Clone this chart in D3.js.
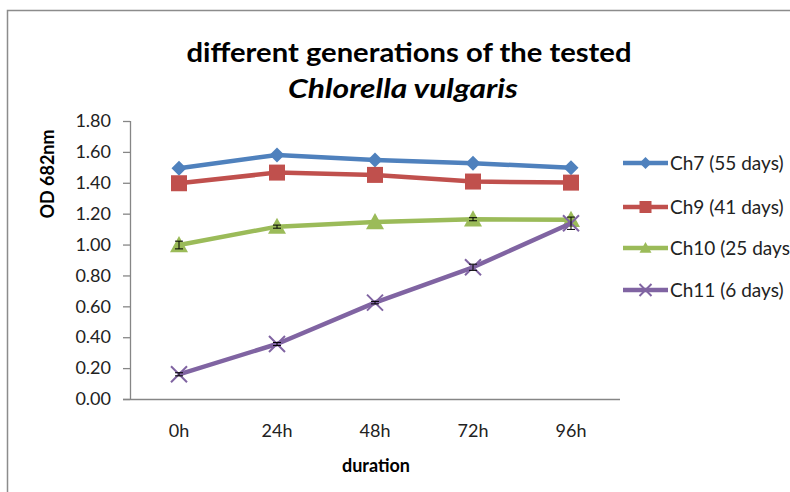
<!DOCTYPE html>
<html><head><meta charset="utf-8">
<script src="https://cdn.jsdelivr.net/npm/d3@7"></script>
<style>body{margin:0;background:#fff;overflow:hidden;} svg{display:block;} text{font-family:Lato,"Open Sans",sans-serif;}</style>
</head><body>
<svg id="c" width="790" height="492"></svg>
<script>
const categories = ["0h","24h","48h","72h","96h"];
const seriesNames = ["Ch7 (55 days)","Ch9 (41 days)","Ch10 (25 days)","Ch11 (6 days)"];
const ch7 = [1.494, 1.580, 1.548, 1.526, 1.498];
const ch9 = [1.397, 1.466, 1.451, 1.408, 1.401];
const ch10 = [0.997, 1.116, 1.146, 1.164, 1.160];
const ch11 = [0.160, 0.356, 0.624, 0.853, 1.138];
const err7 = [0, 0, 0, 0, 0];
const err9 = [0, 0, 0, 0, 0];
const err10 = [0.025, 0.01, 0, 0.01, 0];
const err11 = [0.01, 0.01, 0.008, 0.02, 0.04];
const yTicks = [0,0.2,0.4,0.6,0.8,1.0,1.2,1.4,1.6,1.8];
const colors = ["#4F81BD","#C0504D","#9BBB59","#8064A2"];
const markers = ["diamond","square","triangle","x"];
const seriesVals = [ch7, ch9, ch10, ch11];
const seriesErr = [err7, err9, err10, err11];

const svg = d3.select("#c");
// chart border
svg.append("path").attr("d","M7.5,492 L7.5,10.5 L790,10.5").attr("fill","none").attr("stroke","#8c8c8c").attr("stroke-width",1.5);

const x = d3.scaleBand().domain(categories).range([130,620]);
const y = d3.scaleLinear().domain([0,1.8]).range([399,121]);

// title
svg.append("text").attr("x",409).attr("y",62).attr("text-anchor","middle").attr("font-size",27).attr("font-weight","bold")
  .attr("textLength",445).attr("lengthAdjust","spacingAndGlyphs").text("different generations of the tested");
svg.append("text").attr("x",403).attr("y",98).attr("text-anchor","middle").attr("font-size",27).attr("font-weight","bold").attr("font-style","italic")
  .attr("textLength",230).attr("lengthAdjust","spacingAndGlyphs").text("Chlorella vulgaris");

// y axis
const ya = svg.append("g").attr("transform","translate(130,0)")
  .call(d3.axisLeft(y).tickValues(yTicks).tickFormat(d3.format(".2f")).tickSize(7).tickPadding(12));
ya.select(".domain").attr("stroke","#868686").attr("stroke-width",1.3).attr("d","M0.5,121V399.5");
ya.selectAll(".tick line").attr("stroke","#868686").attr("stroke-width",1.3);
ya.selectAll(".tick text").attr("font-size",18).attr("fill","#222").attr("font-family","Lato,sans-serif");

// x axis
const xa = svg.append("g").attr("transform","translate(0,399)")
  .call(d3.axisBottom(x).tickSize(0).tickPadding(25));
xa.select(".domain").attr("stroke","#868686").attr("stroke-width",1.3).attr("d","M123,0.5H620");
xa.selectAll(".tick text").attr("font-size",18).attr("fill","#222").attr("font-family","Lato,sans-serif");

// axis titles
svg.append("text").attr("transform","translate(54,174) rotate(-90)").attr("text-anchor","middle").attr("font-size",18).attr("font-weight","bold").text("OD 682nm");
svg.append("text").attr("x",376).attr("y",472).attr("text-anchor","middle").attr("font-size",18).attr("font-weight","bold").text("duration");

const cx = c => x(c) + x.bandwidth()/2;

function drawMarker(g, type, px, py, color, s) {
  if (type==="diamond") {
    g.append("path").attr("d",`M${px},${py-s}L${px+s},${py}L${px},${py+s}L${px-s},${py}Z`).attr("fill",color);
  } else if (type==="square") {
    g.append("rect").attr("x",px-s).attr("y",py-s).attr("width",2*s).attr("height",2*s).attr("fill",color);
  } else if (type==="triangle") {
    g.append("path").attr("d",`M${px},${py-s}L${px+s},${py+s*0.8}L${px-s},${py+s*0.8}Z`).attr("fill",color);
  } else {
    g.append("path").attr("d",`M${px-s},${py-s}L${px+s},${py+s}M${px-s},${py+s}L${px+s},${py-s}`).attr("stroke",color).attr("stroke-width",2);
  }
}
const msize = [7.5,8,9,8];

seriesVals.forEach((vals,i)=>{
  const g = svg.append("g");
  const data = categories.map((c,j)=>({c, v:vals[j], e:seriesErr[i][j]}));
  g.append("path").datum(data)
    .attr("d", d3.line().x(d=>cx(d.c)).y(d=>y(d.v)))
    .attr("fill","none").attr("stroke",colors[i]).attr("stroke-width",4.5).attr("stroke-linejoin","round");
  data.forEach(d=>drawMarker(g, markers[i], cx(d.c), y(d.v), colors[i], msize[i]));
  data.forEach(d=>{
    if (!d.e) return;
    const px=cx(d.c), y1=y(d.v+d.e), y2=y(d.v-d.e);
    g.append("path").attr("d",`M${px},${y1}V${y2}M${px-4},${y1}H${px+4}M${px-4},${y2}H${px+4}`).attr("stroke","#000").attr("stroke-width",1);
  });
});

// legend
const legY = [163,207,248,290];
seriesNames.forEach((n,i)=>{
  const g = svg.append("g");
  g.append("line").attr("x1",623).attr("x2",668).attr("y1",legY[i]).attr("y2",legY[i]).attr("stroke",colors[i]).attr("stroke-width",4.5);
  drawMarker(g, markers[i], 645.5, legY[i], colors[i], 6);
  g.append("text").attr("x",670).attr("y",legY[i]+6.5).attr("font-size",19).attr("fill","#222").text(n);
});
</script>
</body></html>
